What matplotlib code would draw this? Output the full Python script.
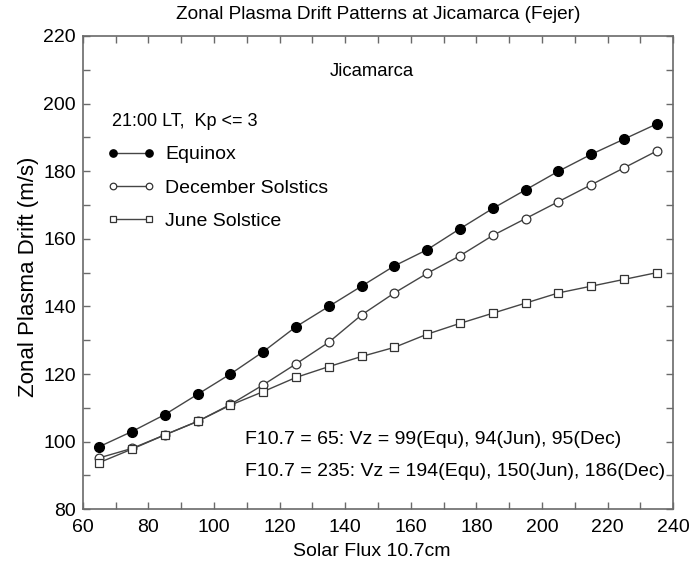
import matplotlib
matplotlib.use("Agg")
import matplotlib.pyplot as plt
import numpy as np

plt.rcParams["font.family"] = ["Liberation Sans", "DejaVu Sans"]

# Solar flux (F10.7) values
flux = [65, 75, 85, 95, 105, 115, 125, 135, 145, 155, 165, 175, 185, 195, 205, 215, 225, 235]

# Zonal drift at 21:00 LT (m/s)
equinox = [98.5, 103, 108, 114, 120, 126.6, 134, 140, 146, 152, 156.8, 163, 169, 174.5, 180, 185, 189.5, 194]
dec_solstice = [95.2, 98, 102, 106, 111, 116.8, 123, 129.4, 137.5, 144, 149.8, 155, 161, 166, 171, 176, 181, 186]
jun_solstice = [93.8, 97.8, 102, 106, 110.8, 114.8, 119, 122.2, 125.2, 127.9, 131.8, 135, 138, 141, 144, 146, 148, 150]

line_col = "#454545"
spine_col = "#6a6a6a"

fig = plt.figure(figsize=(6.91, 5.63), dpi=100)
ax = fig.add_axes([0.1197, 0.0954, 0.8547, 0.8407])

ax.plot(flux, equinox, color=line_col, linewidth=1, marker="o", markersize=7,
        markerfacecolor="black", markeredgecolor="black", label="Equinox")
ax.plot(flux, dec_solstice, color=line_col, linewidth=1, marker="o", markersize=6.3,
        markerfacecolor="white", markeredgecolor="#333333", markeredgewidth=0.9,
        label="December Solstics")
ax.plot(flux, jun_solstice, color=line_col, linewidth=1, marker="s", markersize=5.8,
        markerfacecolor="white", markeredgecolor="#333333", markeredgewidth=0.9,
        label="June Solstice")

ax.set_xlim(60, 240)
ax.set_ylim(80, 220)
ax.set_xticks(np.arange(60, 241, 20))
ax.set_yticks(np.arange(80, 221, 20))
ax.set_xticks(np.arange(60, 241, 10), minor=True)
ax.set_yticks(np.arange(80, 221, 10), minor=True)
ax.tick_params(which="both", direction="in", top=True, right=True, length=5,
               width=1, color=spine_col, labelsize=14)
ax.tick_params(axis="x", which="both", pad=7)
ax.tick_params(axis="y", which="both", pad=5)
for s in ax.spines.values():
    s.set_color(spine_col)
    s.set_linewidth(1.2)

ax.set_title("Zonal Plasma Drift Patterns at Jicamarca (Fejer)", fontsize=13.7, pad=12)
ax.set_xlabel("Solar Flux 10.7cm", fontsize=14)
ax.set_ylabel("Zonal Plasma Drift (m/s)", fontsize=16)
ax.xaxis.set_label_coords(0.49, -0.071)
ax.yaxis.set_label_coords(-0.074, 0.491)

ax.text(148.2, 209.6, "Jicamarca", fontsize=13.3, ha="center", va="center")
ax.text(69, 194.8, "21:00 LT,  Kp <= 3", fontsize=13, ha="left", va="center")

ax.legend(loc="upper left", bbox_to_anchor=(0.0415, 0.768), frameon=False,
          fontsize=14, handlelength=2.46, handletextpad=0.53, labelspacing=0.8,
          borderaxespad=0, borderpad=0, numpoints=2, markerscale=0.75)

ax.text(109.5, 100.5, "F10.7 = 65: Vz = 99(Equ), 94(Jun), 95(Dec)", fontsize=14,
        ha="left", va="center")
ax.text(109.5, 91.1, "F10.7 = 235: Vz = 194(Equ), 150(Jun), 186(Dec)", fontsize=14,
        ha="left", va="center")

fig.savefig("out.png", dpi=100)
